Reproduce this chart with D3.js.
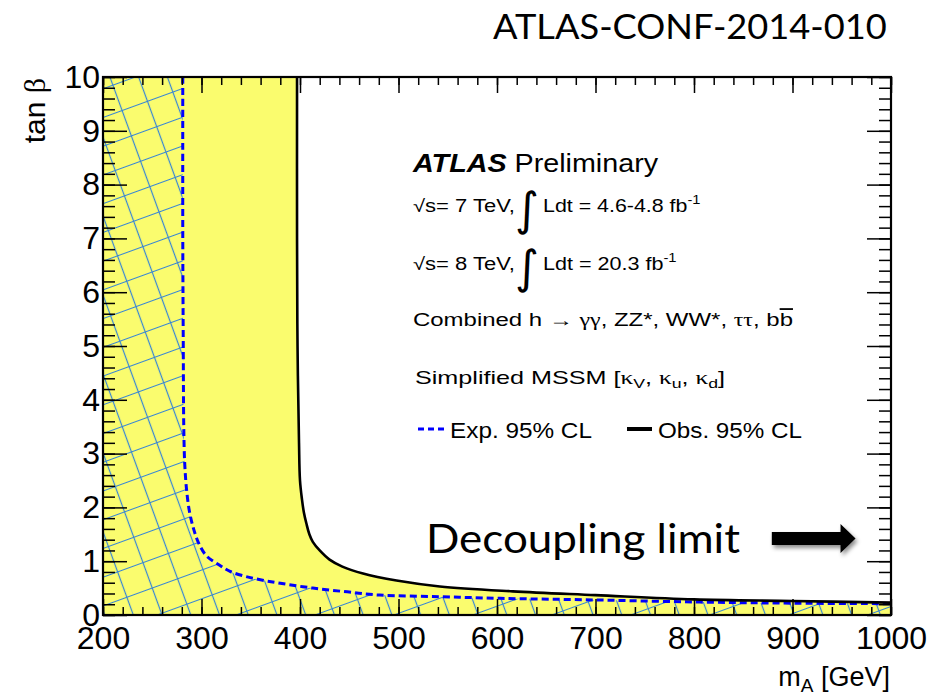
<!DOCTYPE html>
<html><head><meta charset="utf-8">
<script src="https://cdn.jsdelivr.net/npm/d3@7"></script>
<style>
body{margin:0;background:#fff}
text{font-family:"Liberation Sans",Arial,Helvetica,sans-serif;fill:#000}
</style>
</head><body>
<svg id="c" width="936" height="698"></svg>
<script>
// ---- data ----
const xTicks = [200,300,400,500,600,700,800,900,1000];
const yTicks = [0,1,2,3,4,5,6,7,8,9,10];
const xMinor = d3.range(200,1001,20);
const yMinor = d3.range(0,10.001,0.2);

// expected 95% CL contour (blue dashed)
const expMA   = [281,281,281.5,282,283,285,288,292,297,305,318,329,344,361,380,413,448,481,542,603,700,806,900,1000];
const expTanB = [10,7,5,3.5,2.8,2.3,1.9,1.6,1.34,1.1,0.93,0.81,0.72,0.65,0.59,0.5,0.43,0.37,0.34,0.31,0.28,0.24,0.22,0.21];
// observed 95% CL contour (black solid)
const obsMA   = [397,397,397.5,399,400,402,404,406.5,409.5,413,420,430,443,464,498,542,616,700,800,900,1000];
const obsTanB = [10,7,5,3.2,2.5,2.15,1.9,1.7,1.5,1.36,1.2,1.03,0.9,0.77,0.64,0.53,0.44,0.37,0.29,0.26,0.23];
// decoupling-limit arrow (data coords)
const arrowMA = [879, 964];
const arrowTanB = 1.42;

// ---- layout ----
const M = {l:103, t:77, r:891, b:615};
const x = d3.scaleLinear().domain([200,1000]).range([M.l,M.r]);
const y = d3.scaleLinear().domain([0,10]).range([M.b,M.t]);
const svg = d3.select("#c");
const defs = svg.append("defs");

const YELLOW = "#fafc6e", HATCH = "#3584d6";

defs.append("clipPath").attr("id","plot").append("rect")
  .attr("x",M.l).attr("y",M.t).attr("width",M.r-M.l).attr("height",M.b-M.t);
const pat = defs.append("pattern").attr("id","hatch").attr("patternUnits","userSpaceOnUse")
  .attr("width",27).attr("height",27)
  .attr("patternTransform","translate(101.5,606.5) rotate(-20) translate(-13.5,-13.5)");
pat.append("path").attr("d","M0,13.5H27M13.5,0V27").attr("stroke",HATCH).attr("stroke-width",1.2).attr("fill","none");
const f = defs.append("filter").attr("id","shadow").attr("x","-20%").attr("y","-50%").attr("width","150%").attr("height","220%");
f.append("feDropShadow").attr("dx",2).attr("dy",3).attr("stdDeviation",2.2).attr("flood-color","#000").attr("flood-opacity",0.45);

const line = d3.line().x(d=>x(d[0])).y(d=>y(d[1])).curve(d3.curveCatmullRom.alpha(0.5));
const expPts = expMA.map((m,i)=>[m,expTanB[i]]);
const obsPts = obsMA.map((m,i)=>[m,obsTanB[i]]);
const closeLeft = `L${x(1000)},${y(0)}L${x(200)},${y(0)}L${x(200)},${y(10)}Z`;

const plot = svg.append("g").attr("clip-path","url(#plot)");
plot.append("path").attr("d", line(obsPts)+closeLeft).attr("fill",YELLOW);
plot.append("path").attr("d", line(expPts)+closeLeft).attr("fill","url(#hatch)");
plot.append("path").attr("d", line(expPts)).attr("fill","none").attr("stroke","#0000ff")
  .attr("stroke-width",3).attr("stroke-dasharray","7,4");
plot.append("path").attr("d", line(obsPts)).attr("fill","none").attr("stroke","#000").attr("stroke-width",2.6);

// ---- axes (ROOT style, ticks inside on all sides) ----
function styleAxis(g){ g.select(".domain").remove(); g.selectAll("line").attr("stroke","#000").attr("stroke-width",1.5);
  g.selectAll("text").attr("font-size",32).attr("font-family","Liberation Sans, Arial, sans-serif").attr("fill","#000"); }
svg.append("g").attr("transform",`translate(0,${M.b})`)
  .call(d3.axisBottom(x).tickValues(xMinor).tickSize(-8).tickFormat("")).call(styleAxis);
svg.append("g").attr("transform",`translate(0,${M.b})`)
  .call(d3.axisBottom(x).tickValues(xTicks).tickSizeInner(-16).tickSizeOuter(0).tickPadding(11).tickFormat(d3.format("d"))).call(styleAxis);
svg.append("g").attr("transform",`translate(0,${M.t})`)
  .call(d3.axisTop(x).tickValues(xMinor).tickSize(-8).tickFormat("")).call(styleAxis);
svg.append("g").attr("transform",`translate(0,${M.t})`)
  .call(d3.axisTop(x).tickValues(xTicks).tickSize(-16).tickFormat("")).call(styleAxis);
svg.append("g").attr("transform",`translate(${M.l},0)`)
  .call(d3.axisLeft(y).tickValues(yMinor).tickSize(-12).tickFormat("")).call(styleAxis);
svg.append("g").attr("transform",`translate(${M.l},0)`)
  .call(d3.axisLeft(y).tickValues(yTicks).tickSizeInner(-24).tickSizeOuter(0).tickPadding(3).tickFormat(d3.format("d"))).call(styleAxis);
svg.append("g").attr("transform",`translate(${M.r},0)`)
  .call(d3.axisRight(y).tickValues(yMinor).tickSize(-12).tickFormat("")).call(styleAxis);
svg.append("g").attr("transform",`translate(${M.r},0)`)
  .call(d3.axisRight(y).tickValues(yTicks).tickSize(-24).tickFormat("")).call(styleAxis);

svg.append("rect").attr("x",M.l).attr("y",M.t).attr("width",M.r-M.l).attr("height",M.b-M.t)
  .attr("fill","none").attr("stroke","#000").attr("stroke-width",2.2);

// ---- text helper: parts with optional attrs, optional fit width ----
function label(x0, yb, size, parts, opts={}){
  const t = svg.append("text").attr("font-size",size).attr("transform",`translate(${x0},${yb})`);
  if (opts.family) t.style("font-family",opts.family);
  if (opts.anchor) t.attr("text-anchor",opts.anchor);
  parts.forEach(p=>{ const s=t.append("tspan").text(p.t); if(p.a) for(const k in p.a) s.attr(k,p.a[k]); if(p.s) for(const k in p.s) s.style(k,p.s[k]); });
  if (opts.w){ const bw=t.node().getBBox().width; const k=opts.w/bw;
    t.attr("transform",`translate(${x0},${yb}) scale(${k},1)`); }
  if (opts.rot){ t.attr("transform",`translate(${x0},${yb}) rotate(-90)`); }
  return t;
}
const SERIF = {"font-family":"Liberation Serif, Times New Roman, serif"};

// top reference
label(493, 39, 35, [{t:"ATLAS-CONF-2014-010"}], {family:"Lato, 'Open Sans', sans-serif", w:394});

// axis titles
label(45, 78, 30, [{t:"tan "},{t:"β", s:SERIF}], {anchor:"end", rot:true});
label(890, 686, 27, [{t:"m"},{t:"A",a:{dy:6,"font-size":19}},{t:" [GeV]",a:{dy:-6}}], {anchor:"end"});

// legend block
label(413, 172, 25, [{t:"ATLAS",a:{"font-weight":"bold","font-style":"italic"}},{t:" Preliminary"}], {w:247});
label(413, 212, 17.5, [{t:"√s= 7 TeV,"}], {w:102});
label(515, 225, 46, [{t:"∫"}], {family:"DejaVu Sans, sans-serif"});
label(543, 212, 17.5, [{t:"Ldt = 4.6-4.8 fb"},{t:"-1",a:{dy:-8,"font-size":12}}], {w:158});
label(413, 270, 17.5, [{t:"√s= 8 TeV,"}], {w:102});
label(515, 283, 46, [{t:"∫"}], {family:"DejaVu Sans, sans-serif"});
label(543, 270, 17.5, [{t:"Ldt = 20.3 fb"},{t:"-1",a:{dy:-8,"font-size":12}}], {w:134});
label(413, 326, 18, [{t:"Combined h → "},{t:"γγ",s:SERIF},{t:", ZZ*, WW*, "},{t:"ττ",s:SERIF},{t:", b"},{t:"b",s:{"text-decoration":"overline"}}], {w:380});
label(415, 384, 18.5, [{t:"Simplified MSSM ["},{t:"κ",s:SERIF},{t:"V",a:{dy:4,"font-size":13}},{t:", ",a:{dy:-4}},{t:"κ",s:SERIF},{t:"u",a:{dy:4,"font-size":13}},{t:", ",a:{dy:-4}},{t:"κ",s:SERIF},{t:"d",a:{dy:4,"font-size":13}},{t:"]",a:{dy:-4}}], {w:310});

svg.append("line").attr("x1",418).attr("x2",445).attr("y1",429).attr("y2",429)
  .attr("stroke","#0000ff").attr("stroke-width",3).attr("stroke-dasharray","6,4");
label(450, 438, 22.5, [{t:"Exp. 95% CL"}], {w:142});
svg.append("line").attr("x1",627).attr("x2",652).attr("y1",429).attr("y2",429)
  .attr("stroke","#000").attr("stroke-width",4);
label(658, 438, 22.5, [{t:"Obs. 95% CL"}], {w:144});

// decoupling limit annotation
label(426, 553, 40, [{t:"Decoupling limit"}], {family:"Lato, 'Open Sans', sans-serif", w:314});
{
  const x0=x(arrowMA[0]), x1=x(arrowMA[1]), yc=y(arrowTanB), hb=6.5, hh=14.5, hl=15;
  svg.append("path").attr("d",`M${x0},${yc-hb}L${x1-hl},${yc-hb}L${x1-hl},${yc-hh}L${x1},${yc}L${x1-hl},${yc+hh}L${x1-hl},${yc+hb}L${x0},${yc+hb}Z`)
    .attr("fill","#000").attr("filter","url(#shadow)");
}
</script>
</body></html>
